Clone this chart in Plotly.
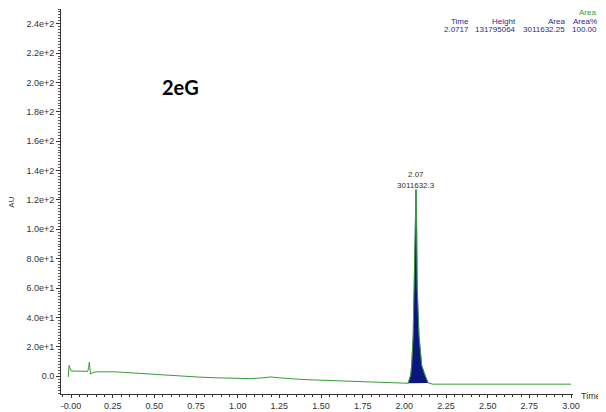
import plotly.graph_objects as go

# chromatogram trace (time in min, response in AU)
base_time = [-0.016, -0.012, -0.006, 0.00, 0.03, 0.06, 0.09, 0.100, 0.106, 0.110, 0.117, 0.13,
             0.15, 0.20, 0.26, 0.32, 0.40, 0.50, 0.57, 0.66, 0.77, 0.88, 1.01, 1.07, 1.13,
             1.18, 1.20, 1.23, 1.30, 1.37, 1.45, 1.55, 1.67, 1.78, 1.88, 1.97, 2.00]
base_au = [-0.5, 7.4, 5.5, 3.6, 3.5, 3.4, 3.4, 3.3, 6.0, 9.6, 1.5, 2.4,
           3.0, 3.1, 3.0, 2.6, 2.0, 1.2, 0.4, 0.0, -0.6, -1.1, -1.5, -1.6, -1.3,
           -0.8, -0.5, -0.9, -1.6, -2.1, -2.5, -2.9, -3.4, -3.7, -4.0, -4.3, -4.5]

peak_time = [2.023, 2.038, 2.044, 2.053, 2.059, 2.065, 2.070, 2.074, 2.077, 2.088,
             2.104, 2.124, 2.143]
peak_au = [-4.8, 0.7, 7.4, 27.6, 61.0, 100.0, 127.0, 100.0, 61.0, 27.6,
           7.4, 0.7, -4.6]

tail_time = [2.17, 2.22, 2.30, 2.45, 2.60, 2.75, 2.88, 2.90, 3.00]
tail_au = [-5.4, -5.3, -5.4, -5.4, -5.4, -5.4, -5.3, -5.5, -5.4]

# peak table
peak_label_rt = "2.07"
peak_label_area = "3011632.3"
table_header = ["Time", "Height", "Area", "Area%"]
table_values = ["2.0717", "131795064", "3011632.25", "100.00"]

y_tickvals = [0, 20, 40, 60, 80, 100, 120, 140, 160, 180, 200, 220, 240]
y_ticktext = ["0.0", "2.0e+1", "4.0e+1", "6.0e+1", "8.0e+1", "1.0e+2", "1.2e+2",
              "1.4e+2", "1.6e+2", "1.8e+2", "2.0e+2", "2.2e+2", "2.4e+2"]
x_tickvals = [0, 0.25, 0.5, 0.75, 1.0, 1.25, 1.5, 1.75, 2.0, 2.25, 2.5, 2.75, 3.0]
x_ticktext = ["-0.00", "0.25", "0.50", "0.75", "1.00", "1.25", "1.50", "1.75",
              "2.00", "2.25", "2.50", "2.75", "3.00"]

GREEN = "#3a9a3a"
NAVY = "#0b1580"
TEXT = "#333333"
TABLE = "#2a2a8a"
FONT = "Liberation Sans, Arial, sans-serif"

fig = go.Figure()

# integrated peak area (filled)
fig.add_trace(go.Scatter(
    x=peak_time, y=peak_au, mode="lines", fill="toself",
    fillcolor=NAVY, line=dict(color=NAVY, width=0.5), hoverinfo="skip",
))

# full trace on top
fig.add_trace(go.Scatter(
    x=base_time + peak_time + tail_time,
    y=base_au + peak_au + tail_au,
    mode="lines", line=dict(color=GREEN, width=1), hoverinfo="skip",
))


def note(text, x, y, size=8, color=TEXT, xanchor="center", xref="paper", yref="paper", **kw):
    return dict(text=text, x=x, y=y, xref=xref, yref=yref, xanchor=xanchor,
                yanchor="middle", showarrow=False,
                font=dict(family=kw.pop("family", FONT), size=size, color=color), **kw)


ann = [
    note("<b>2eG</b>", 0.234, 0.797, size=20, color="black", family="Lato, sans-serif"),
    note(peak_label_rt, peak_time[6], 137.4, xref="x", yref="y"),
    note(peak_label_area, peak_time[6], 130.0, xref="x", yref="y"),
    note("AU", -0.0957, 0.497, textangle=-90),
    note("Time", 1.012, -0.004, size=9, xanchor="left"),
    note("Area", 1.0488, 0.99, color="#3aa03a", xanchor="right"),
]

# peak table in the top-right corner
col_right = [0.8008, 0.8926, 0.9883, 1.0508]
for xr, h, v in zip(col_right, table_header, table_values):
    ann.append(note(h, xr, 0.9667, color=TABLE, xanchor="right"))
    ann.append(note(v, xr, 0.946, color=TABLE, xanchor="right"))

# clipped fragments of a neighbouring table at the left edge
for txt, yy, col in [("Area", 0.990, "#3aa03a"), ("Area%", 0.970, "#3a7a9a"),
                     ("25", 0.949, "#3a7a9a"), ("64", 0.926, "#3a9a7a")]:
    ann.append(note(txt, -0.1133, yy, color=col, xanchor="right"))

# the page body adds an 8px offset, so the figure is 8px smaller than the window
fig.update_layout(
    width=598, height=404,
    margin=dict(l=53, r=33, t=1, b=13),
    paper_bgcolor="white", plot_bgcolor="white",
    showlegend=False,
    annotations=ann,
    font=dict(family=FONT, size=9, color=TEXT),
)

fig.update_xaxes(
    range=[-0.06, 3.012], showgrid=False, zeroline=False,
    showline=True, linecolor="#333333", linewidth=1,
    ticks="outside", ticklen=3, tickcolor="#333333",
    tickvals=x_tickvals, ticktext=x_ticktext,
    tickfont=dict(family=FONT, size=9, color=TEXT),
    minor=dict(dtick=0.05, ticks="outside", ticklen=2, tickcolor="#333333"),
)
fig.update_yaxes(
    range=[-12.1, 250], showgrid=False, zeroline=False,
    showline=True, linecolor="#333333", linewidth=1,
    ticks="outside", ticklen=4, tickcolor="#333333",
    tickvals=y_tickvals, ticktext=y_ticktext,
    tickfont=dict(family=FONT, size=9, color=TEXT),
    minor=dict(dtick=2, ticks="outside", ticklen=2, tickcolor="#555555"),
)

fig.write_html("out.html")
